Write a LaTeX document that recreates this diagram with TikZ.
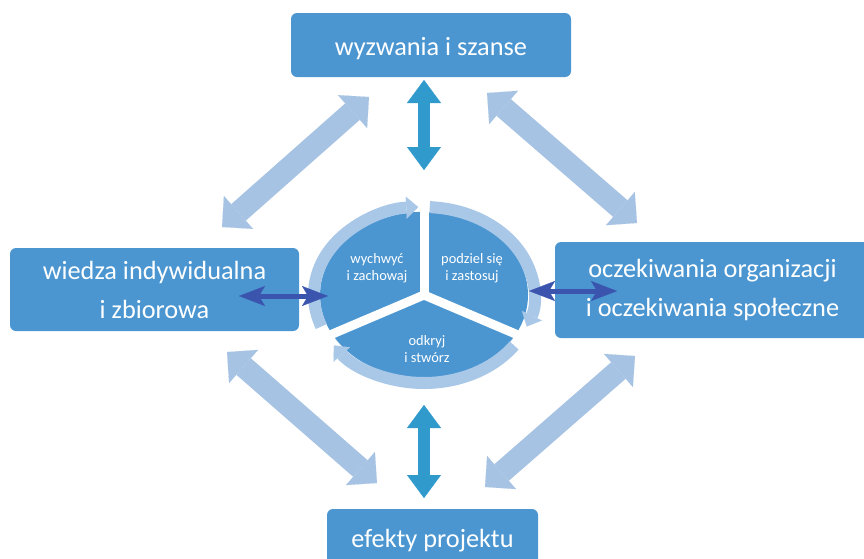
\documentclass[tikz,border=0pt]{standalone}
\usepackage{fontspec}
\setmainfont{Carlito}
\usetikzlibrary{arrows.meta}

\definecolor{boxblue}{HTML}{4B96D1}
\definecolor{paleblue}{HTML}{A7C3E3}
\definecolor{ringblue}{HTML}{A9C8E8}
\definecolor{tealblue}{HTML}{2F9ACB}
\definecolor{navyblue}{HTML}{3B54AE}

\tikzset{
	bigbox/.style={fill=boxblue, rounded corners=6pt, text=white, align=center,
	inner sep=0pt, font=\fontsize{26.3}{39}\selectfont},
	wheeltext/.style={text=white, align=center, font=\fontsize{14.4}{16.7}\selectfont},
	palearrow/.style={paleblue, line width=22pt,
	{Triangle[line width=0.1pt, length=22pt, width=44pt]}-{Triangle[line width=0.1pt, length=22pt, width=44pt]}},
	tealarrow/.style={tealblue, line width=12pt,
	{Triangle[line width=0.1pt, length=23pt, width=34pt]}-{Triangle[line width=0.1pt, length=23pt, width=34pt]}},
	navyarrow/.style={navyblue, line width=5pt,
	{Stealth[line width=0.1pt, length=26pt, width=20pt, inset=6pt]}-{Stealth[line width=0.1pt, length=26pt, width=20pt, inset=6pt]}},
	ringarrow/.style={ringblue, line width=12pt,
	-{Triangle[line width=0.1pt, length=12pt, width=22pt]}}
}

\begin{document}
\begin{tikzpicture}[x=1pt, y=-1pt]
	\useasboundingbox (0, 0) rectangle (864, 558);
	\clip (0, 0) rectangle (864, 558);
	% Kaesten
	\node[bigbox, minimum width=280pt, minimum height=64pt, text height=22pt,
	text depth=2pt] (challenges) at (431, 45) {wyzwania i szanse};
	\node[bigbox, minimum width=289pt, minimum height=83pt] (knowledge) at
	(154.5, 289.5) {wiedza indywidualna\\i zbiorowa};
	\node[bigbox, minimum width=315pt, minimum height=96pt] (expectations) at
	(712.5, 290) {oczekiwania organizacji\\i oczekiwania społeczne};
	\node[bigbox, minimum width=211pt, minimum height=62pt, text height=19pt,
	text depth=5pt] (effects) at (432.5, 540) {efekty projektu};

	% Rad in der Mitte
	\begin{scope}[shift={(424, 295)}, yscale=-0.8]
		\fill[boxblue] (0, 0) circle[radius=104];
		\foreach \w in {90, 208, -28}
			\draw[white, line width=9pt] (0, 0) -- (\w:130);
		\draw[ringarrow] (201:110) arc[start angle=201, end angle=93, radius=110];
		\draw[ringarrow] (87:110) arc[start angle=87, end angle=-21, radius=110];
		\draw[ringarrow] (-35:110) arc[start angle=-35, end angle=-145, radius=110];
	\end{scope}
	\node[wheeltext] (capture) at (377, 268) {wychwyć\\i zachowaj};
	\node[wheeltext] (share) at (472, 268) {podziel się\\i zastosuj};
	\node[wheeltext] (discover) at (427, 349) {odkryj\\i stwórz};

	% Pfeile diagonal
	\coordinate (tl1) at (222, 227);
	\coordinate (tl2) at (369, 97);
	\coordinate (tr1) at (487, 93);
	\coordinate (tr2) at (637, 223);
	\coordinate (bl1) at (227, 352);
	\coordinate (bl2) at (377, 483);
	\coordinate (br1) at (485, 487);
	\coordinate (br2) at (635, 356);
	\foreach \a/\b in {tl1/tl2, tr1/tr2, bl1/bl2, br1/br2}
		\draw[palearrow] (\a) -- (\b);

	% Pfeile senkrecht
	\coordinate (tv1) at (424, 80);
	\coordinate (tv2) at (424, 170);
	\coordinate (bv1) at (424, 405);
	\coordinate (bv2) at (424, 498);
	\draw[tealarrow] (tv1) -- (tv2);
	\draw[tealarrow] (bv1) -- (bv2);

	% Pfeile waagerecht
	\coordinate (hl1) at (239, 296);
	\coordinate (hl2) at (328, 296);
	\coordinate (hr1) at (529, 291);
	\coordinate (hr2) at (617, 291);
	\draw[navyarrow] (hl1) -- (hl2);
	\draw[navyarrow] (hr1) -- (hr2);
\end{tikzpicture}
\end{document}
